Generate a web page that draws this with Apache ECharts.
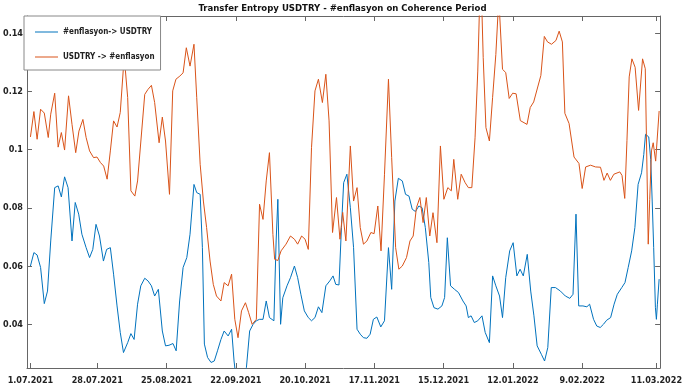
<!DOCTYPE html>
<html>
<head>
<meta charset="utf-8">
<script src="https://cdn.jsdelivr.net/npm/echarts@6/dist/echarts.min.js"></script>
<style>
  html, body { margin: 0; padding: 0; background: #fff; }
  #chart { width: 685px; height: 387px; }
</style>
</head>
<body>
<div id="chart"></div>
<script>
const FONT = '"Liberation Sans Narrow", "DejaVu Sans Condensed", "Arial Narrow", sans-serif';
const DAY = 86400000;
const startDate = Date.UTC(2021, 6, 1);

const titleText = 'Transfer Entropy USDTRY - #enflasyon on Coherence Period';
const seriesNames = ['#enflasyon-> USDTRY', 'USDTRY -> #enflasyon'];
const seriesColors = ['#0072BD', '#D95319'];

// x tick labels (dates) and y tick values
const tickLabels = ['1.07.2021', '28.07.2021', '25.08.2021', '22.09.2021', '20.10.2021',
    '17.11.2021', '15.12.2021', '12.01.2022', '9.02.2022', '11.03.2022'];
const yTicks = [0.04, 0.06, 0.08, 0.1, 0.12, 0.14];

// #enflasyon -> USDTRY  (days after 1.07.2021, value)
const enfToUsdDays = [0, 1.4, 2.7, 4.1, 5.6, 6.9, 8.2, 9.8, 11.2, 12.5, 13.8, 15.2, 16.8, 18.1, 19.5,
    20.8, 22.5, 23.9, 25.2, 26.5, 27.9, 29.5, 30.8, 32.3, 33.6, 35.0, 36.3, 37.6, 39.3, 40.6, 41.9,
    43.3, 44.6, 46.2, 47.5, 48.9, 50.2, 51.7, 53.3, 54.6, 56.0, 57.6, 58.9, 60.3, 61.7, 63.2, 64.5,
    66.1, 67.2, 68.6, 69.5, 70.3, 71.6, 73.0, 74.3, 75.6, 77.0, 78.3, 79.9, 81.3, 82.3, 83.3, 86.0,
    87.3, 88.6, 90.0, 91.3, 92.6, 94.0, 95.3, 96.6, 98.4, 99.3, 100.0, 101.1, 102.0, 103.7, 105.1,
    106.7, 108.0, 109.3, 110.7, 112.3, 113.6, 115.0, 116.4, 117.8, 119.4, 121.0, 122.3, 123.4, 124.7,
    125.7, 126.6, 127.9, 129.3, 130.6, 132.0, 133.3, 134.6, 136.0, 137.3, 138.6, 140.0, 141.6, 143.1,
    144.7, 146.0, 147.3, 148.7, 150.3, 151.6, 153.0, 154.3, 155.6, 157.0, 158.3, 159.6, 161.0, 161.8,
    163.1, 164.7, 166.3, 167.4, 168.5, 169.8, 171.4, 173.0, 174.8, 176.1, 177.0, 178.1, 179.4, 180.8,
    182.5, 183.8, 185.5, 186.8, 188.1, 189.6, 190.8, 192.1, 193.7, 195.1, 196.6, 197.9, 199.2, 200.8,
    202.2, 203.5, 204.8, 206.5, 207.8, 209.1, 210.5, 212.2, 214.2, 216.2, 218.0, 219.3, 220.5, 221.6,
    223.3, 224.9, 226.0, 227.6, 228.9, 230.3, 231.6, 232.9, 234.5, 235.9, 237.2, 239.0, 240.3, 241.6,
    243.0, 244.3, 245.6, 247.0, 247.9, 248.6, 249.9, 250.7, 251.3, 251.9, 252.6, 253.0, 253.4, 254.1];
const enfToUsdVals = [0.0601, 0.0647, 0.0639, 0.0596, 0.0472, 0.0515, 0.0687, 0.087, 0.0876, 0.0838,
    0.0907, 0.087, 0.0687, 0.0819, 0.0779, 0.071, 0.0664, 0.063, 0.0658, 0.0744, 0.0704, 0.0618, 0.0658,
    0.0664, 0.0573, 0.0464, 0.0373, 0.0304, 0.0338, 0.0369, 0.0349, 0.047, 0.0533, 0.0559, 0.055, 0.0533,
    0.0498, 0.0521, 0.0378, 0.0327, 0.0329, 0.0335, 0.031, 0.0481, 0.0596, 0.063, 0.071, 0.0881, 0.0853,
    0.0847, 0.0664, 0.0333, 0.0287, 0.027, 0.0275, 0.031, 0.0349, 0.0378, 0.0361, 0.0384, 0.0275, 0.02,
    0.02, 0.0253, 0.0378, 0.0401, 0.0413, 0.0418, 0.0418, 0.0481, 0.0424, 0.0413, 0.0687, 0.083, 0.0401,
    0.0492, 0.0533, 0.0561, 0.0601, 0.0561, 0.0504, 0.0447, 0.0424, 0.0413, 0.0424, 0.0461, 0.0441,
    0.0533, 0.055, 0.0567, 0.0538, 0.0536, 0.0733, 0.0887, 0.0916, 0.0801, 0.0664, 0.0384, 0.0367,
    0.0355, 0.0353, 0.0367, 0.0418, 0.0426, 0.0392, 0.0413, 0.0664, 0.0521, 0.0824, 0.0902, 0.0893,
    0.0847, 0.0841, 0.0796, 0.0788, 0.0807, 0.0801, 0.0733, 0.0613, 0.0493, 0.0458, 0.0453, 0.0464,
    0.0493, 0.0698, 0.0533, 0.0521, 0.051, 0.0481, 0.0464, 0.0424, 0.043, 0.0407, 0.0413, 0.043, 0.0373,
    0.0338, 0.0567, 0.0533, 0.0498, 0.0424, 0.0561, 0.0653, 0.0681, 0.0567, 0.059, 0.0567, 0.0641,
    0.0515, 0.043, 0.0327, 0.0298, 0.0275, 0.0321, 0.0527, 0.0527, 0.0515, 0.0498, 0.049, 0.0504, 0.0779,
    0.0464, 0.0464, 0.0461, 0.047, 0.0418, 0.0395, 0.039, 0.0401, 0.0415, 0.0424, 0.047, 0.0504, 0.0527,
    0.0544, 0.0596, 0.0653, 0.0733, 0.0881, 0.0921, 0.0984, 0.1053, 0.1044, 0.0967, 0.0824, 0.0664,
    0.0458, 0.0418, 0.047, 0.0556];

// USDTRY -> #enflasyon
const usdToEnfDays = [0, 1.4, 2.7, 4.1, 5.6, 7.2, 8.2, 9.8, 11.2, 12.5, 13.8, 15.4, 16.8, 18.3, 19.6,
    21.2, 22.5, 23.9, 25.5, 26.9, 28.3, 29.6, 31.0, 32.3, 33.6, 35.0, 36.3, 37.9, 39.3, 40.6, 42.2,
    43.3, 46.2, 47.5, 48.9, 50.2, 52.0, 53.3, 54.6, 56.2, 57.5, 58.8, 60.4, 61.7, 63.0, 64.5, 66.1,
    67.2, 68.6, 69.9, 71.2, 72.6, 73.9, 75.2, 77.0, 78.3, 79.9, 81.3, 82.6, 83.9, 85.3, 86.9, 88.2,
    89.6, 91.3, 92.6, 94.0, 95.3, 96.6, 98.0, 98.7, 100.0, 101.3, 103.3, 105.1, 106.7, 108.0, 109.6,
    111.0, 112.3, 113.6, 115.0, 116.4, 118.0, 119.4, 120.7, 122.1, 123.7, 125.1, 126.2, 127.5, 129.3,
    130.6, 132.0, 133.3, 134.6, 136.0, 137.6, 138.9, 140.4, 141.7, 143.1, 144.7, 146.0, 147.6, 148.9,
    150.3, 152.0, 153.4, 154.7, 156.0, 157.4, 158.7, 160.0, 161.4, 162.7, 164.3, 165.7, 167.1, 168.7,
    170.1, 171.1, 172.7, 174.1, 175.7, 177.0, 178.4, 179.7, 180.8, 181.6, 182.4, 183.0, 184.1, 185.5,
    186.8, 188.1, 189.3, 190.8, 192.1, 193.5, 194.9, 196.3, 198.0, 200.7, 202.0, 203.4, 206.3, 207.7,
    209.0, 210.6, 212.4, 213.7, 215.0, 216.0, 217.7, 219.7, 221.7, 223.0, 224.4, 226.4, 228.4, 230.4,
    231.8, 233.1, 234.4, 235.8, 238.2, 239.1, 240.2, 241.1, 242.0, 243.1, 244.4, 245.8, 247.4, 248.5,
    249.7, 250.3, 251.0, 251.7, 252.7, 254.1];
const usdToEnfVals = [0.1044, 0.1131, 0.1036, 0.1139, 0.1126, 0.1042, 0.1122, 0.1194, 0.1009, 0.1059,
    0.0999, 0.1185, 0.1087, 0.099, 0.1064, 0.1104, 0.1042, 0.0996, 0.0973, 0.0975, 0.0956, 0.0944,
    0.0899, 0.0996, 0.1099, 0.1078, 0.1128, 0.132, 0.1179, 0.0859, 0.0841, 0.0893, 0.119, 0.1207,
    0.1221, 0.1162, 0.1024, 0.1112, 0.103, 0.0847, 0.1202, 0.1242, 0.1253, 0.1264, 0.135, 0.1287,
    0.1362, 0.118, 0.095, 0.0824, 0.0733, 0.0618, 0.0538, 0.0498, 0.0481, 0.0544, 0.0533, 0.0573,
    0.0418, 0.0355, 0.0447, 0.0475, 0.0441, 0.0401, 0.0418, 0.0813, 0.0761, 0.0893, 0.099, 0.0709,
    0.0624, 0.062, 0.0653, 0.0676, 0.0704, 0.0693, 0.0676, 0.0704, 0.0693, 0.0658, 0.1007, 0.1202,
    0.1242, 0.1162, 0.1259, 0.1099, 0.0716, 0.0836, 0.0693, 0.0785, 0.0687, 0.1013, 0.0824, 0.087,
    0.0733, 0.0676, 0.0687, 0.0716, 0.0712, 0.0807, 0.0653, 0.0916, 0.1242, 0.0973, 0.0664, 0.059,
    0.0601, 0.063, 0.0687, 0.0704, 0.0801, 0.0836, 0.075, 0.0836, 0.0704, 0.0784, 0.0681, 0.1013, 0.083,
    0.087, 0.0859, 0.0967, 0.083, 0.0916, 0.0887, 0.087, 0.087, 0.1041, 0.127, 0.152, 0.15, 0.1316,
    0.1076, 0.103, 0.118, 0.1327, 0.152, 0.1276, 0.1265, 0.1176, 0.1194, 0.1192, 0.11, 0.1087, 0.1145,
    0.1164, 0.1255, 0.1389, 0.137, 0.1362, 0.1375, 0.1407, 0.137, 0.1125, 0.109, 0.0975, 0.0953, 0.0867,
    0.0941, 0.0947, 0.0941, 0.094, 0.0895, 0.092, 0.0895, 0.0916, 0.0924, 0.0912, 0.0833, 0.1032, 0.125,
    0.1312, 0.1283, 0.1135, 0.1312, 0.1278, 0.0676, 0.083, 0.0996, 0.1024, 0.0961, 0.1133];

function parseDate(s) {
    const p = s.split('.');
    return Date.UTC(+p[2], +p[1] - 1, +p[0]);
}
function formatDate(t) {
    const d = new Date(t);
    return d.getUTCDate() + '.' + String(d.getUTCMonth() + 1).padStart(2, '0') + '.' + d.getUTCFullYear();
}
function toPoints(days, vals) {
    return days.map((d, i) => [startDate + d * DAY, vals[i]]);
}

const tickTimes = tickLabels.map(parseDate);
const xMin = startDate - 1.4 * DAY;
const xMax = startDate + 254.5 * DAY;
const yMin = 0.0251;
const yMax = 0.1459;

const axisColor = '#666';
const labelStyle = { color: '#222', fontFamily: FONT, fontWeight: 'bold', fontSize: 9 };

function xAxisOf(pos, showLabels) {
    return {
        type: 'value', position: pos, min: xMin, max: xMax,
        axisLine: { show: true, onZero: false, lineStyle: { color: axisColor, width: 1 } },
        axisTick: { show: true, inside: true, length: 5, customValues: tickTimes, lineStyle: { color: axisColor } },
        axisLabel: Object.assign({ show: showLabels, customValues: tickTimes, formatter: formatDate, margin: 8 }, labelStyle),
        splitLine: { show: false }
    };
}
function yAxisOf(pos, showLabels) {
    return {
        type: 'value', position: pos, min: yMin, max: yMax,
        axisLine: { show: true, onZero: false, lineStyle: { color: axisColor, width: 1 } },
        axisTick: { show: true, inside: true, length: 5, customValues: yTicks, lineStyle: { color: axisColor } },
        axisLabel: Object.assign({ show: showLabels, customValues: yTicks, formatter: v => String(+v.toFixed(2)), margin: 4 }, labelStyle),
        splitLine: { show: false }
    };
}

const chart = echarts.init(document.getElementById('chart'));
chart.setOption({
    animation: false,
    backgroundColor: '#fff',
    title: {
        text: titleText, left: 'center', top: 4, padding: 0,
        textStyle: { color: '#111', fontFamily: FONT, fontWeight: 'bold', fontSize: 9.5 }
    },
    legend: {
        orient: 'vertical', left: 24, top: 16,
        data: seriesNames.map(n => ({ name: n, icon: 'rect' })),
        backgroundColor: '#fff', borderColor: '#888', borderWidth: 1, borderRadius: 0,
        padding: [12, 6, 9, 11],
        itemWidth: 23, itemHeight: 1, itemGap: 17,
        textStyle: Object.assign({}, labelStyle, { fontSize: 8 })
    },
    grid: { left: 24, right: 23, top: 16, bottom: 19 },
    xAxis: [xAxisOf('bottom', true), xAxisOf('top', false)],
    yAxis: [yAxisOf('left', true), yAxisOf('right', false)],
    series: [
        {
            name: seriesNames[0], type: 'line', symbol: 'none', clip: true,
            data: toPoints(enfToUsdDays, enfToUsdVals),
            color: seriesColors[0], lineStyle: { width: 1 }
        },
        {
            name: seriesNames[1], type: 'line', symbol: 'none', clip: true,
            data: toPoints(usdToEnfDays, usdToEnfVals),
            color: seriesColors[1], lineStyle: { width: 1 }
        }
    ]
});
</script>
</body>
</html>
